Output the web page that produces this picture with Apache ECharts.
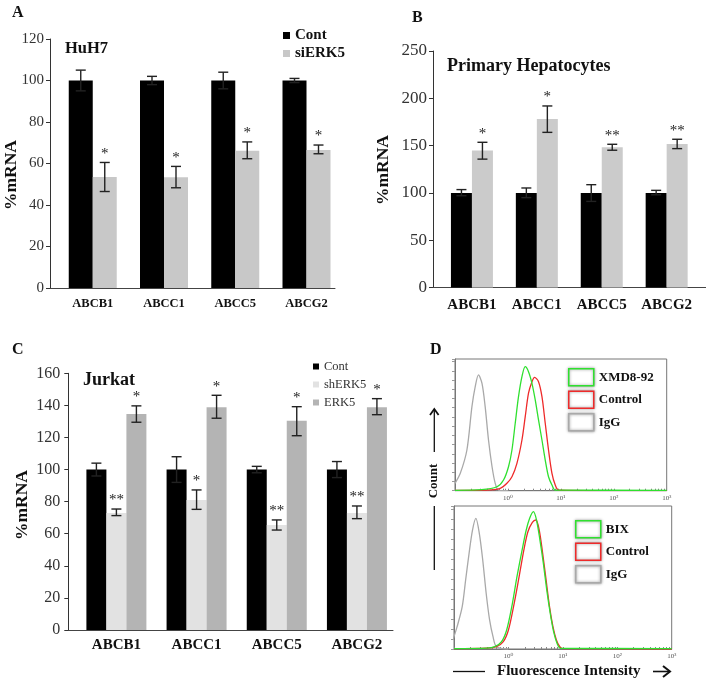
<!DOCTYPE html>
<html>
<head>
<meta charset="utf-8">
<script src="https://cdn.jsdelivr.net/npm/echarts@6/dist/echarts.min.js"></script>
<style>
  html, body { margin: 0; padding: 0; background: #fff; }
  #chart { width: 707px; height: 678px; }
</style>
</head>
<body>
<div id="chart"></div>
<script>
var genes = ["ABCB1", "ABCC1", "ABCC5", "ABCG2"];

// A: HuH7
var aCont = [100, 100, 100, 100];
var aContErr = [[95, 105], [98, 102], [96, 104], [99, 101]];
var aSi = [53.5, 53.4, 66.2, 66.5];
var aSiErr = [[46.5, 60.5], [48.3, 58.6], [62.3, 70.4], [64.7, 68.9]];
var aSiStars = ["*", "*", "*", "*"];

// B: primary hepatocytes
var bCont = [100, 100, 100, 100];
var bContErr = [[97, 103.5], [95, 105.2], [91, 108.7], [98, 102.7]];
var bTreat = [144.7, 178, 148.3, 151.7];
var bTreatErr = [[135.7, 153.5], [164, 191.9], [145.1, 151.4], [146.8, 156.7]];
var bStars = ["*", "*", "**", "**"];

// C: Jurkat
var cCont = [100, 100, 100, 100];
var cContErr = [[96, 104], [92, 108], [98, 102], [95, 105]];
var cSh = [73, 81, 65.5, 73];
var cShErr = [[71.3, 75.4], [75.2, 87.3], [62.3, 68.6], [69.4, 77.3]];
var cShStars = ["**", "*", "**", "**"];
var cErk = [134.7, 138.8, 130.5, 138.8];
var cErkErr = [[129.5, 139.7], [132, 146.3], [121.1, 139.2], [134.2, 144.2]];
var cErkStars = ["*", "*", "*", "*"];

// D: flow histograms, [log10 intensity, % of max count]
var d1IgG = [[-1, 5.6], [-0.9, 13.2], [-0.775, 30.9], [-0.68, 63.8], [-0.618, 79], [-0.556, 87.9],
  [-0.49, 81.5], [-0.43, 63.8], [-0.367, 38.5], [-0.3, 18.2], [-0.24, 5.6], [-0.18, 0.5], [0, 0]];
var d1Control = [[-1, 0.3], [-0.4, 0.5], [-0.146, 1.8], [-0.019, 5.6], [0.076, 10.6], [0.17, 20.8],
  [0.265, 38.5], [0.327, 56.2], [0.389, 74], [0.454, 82.8], [0.503, 86.1], [0.578, 82.8],
  [0.643, 71.4], [0.705, 51.2], [0.767, 30.9], [0.832, 13.2], [0.894, 4.3], [0.957, 0.5], [3, 0]];
var d1Xmd = [[-1, 0.3], [-0.5, 0.8], [-0.208, 3], [-0.083, 8.1], [0.011, 18.2], [0.076, 30.9],
  [0.138, 51.2], [0.2, 71.4], [0.265, 86.6], [0.327, 94.2], [0.389, 90.4], [0.454, 81.5],
  [0.516, 68.9], [0.578, 53.7], [0.643, 38.5], [0.705, 23.3], [0.767, 10.6], [0.832, 4.3],
  [0.894, 0.5], [3, 0.3]];
var d2IgG = [[-1.02, 6.3], [-0.943, 15.6], [-0.849, 29.6], [-0.786, 48.3], [-0.723, 66.9],
  [-0.66, 83.2], [-0.598, 91.4], [-0.535, 80.9], [-0.472, 62.2], [-0.409, 39], [-0.346, 20.3],
  [-0.283, 8.6], [-0.22, 1.6], [0, 0]];
var d2Control = [[-1, 0.3], [-0.4, 0.6], [-0.22, 1.6], [-0.094, 5.1], [0, 13.3], [0.094, 29.6],
  [0.189, 49], [0.283, 69.2], [0.358, 82], [0.44, 88.5], [0.504, 90.2], [0.566, 83.2],
  [0.629, 66.9], [0.692, 48.3], [0.755, 29.6], [0.818, 15.6], [0.881, 6.3], [0.943, 1.6],
  [1, 0.3], [3, 0]];
var d2Bix = [[-1, 0.3], [-0.4, 0.6], [-0.251, 1.6], [-0.126, 5.1], [-0.032, 13.3], [0.062, 29.6],
  [0.157, 50.6], [0.251, 69.2], [0.327, 83.2], [0.39, 91.4], [0.459, 96], [0.516, 90.2],
  [0.579, 76.2], [0.642, 59.9], [0.704, 41.3], [0.768, 25], [0.83, 12.1], [0.893, 4],
  [0.957, 0.5], [3, 0.3]];

var serif = '"Liberation Serif", "DejaVu Serif", serif';
var green = "#2fe02f", red = "#ee2a2a", gray = "#a9a9a9";
var sup = { "0": "\u2070", "1": "\u00b9", "2": "\u00b2", "3": "\u00b3" };

// minor ticks of the log axes (2..9 of each decade)
var logTicks = [];
for (var d = -1; d < 3; d++) {
  for (var k = 1; k < 10; k++) logTicks.push(d + Math.log10(k));
}
logTicks.push(3);

function barSeries(name, vals, color, axis, width) {
  return {
    type: "bar", name: name, xAxisIndex: axis, yAxisIndex: axis,
    data: vals.map(function (v, i) { return [i, v]; }),
    barWidth: width, barGap: "0%", itemStyle: { color: color }, silent: true
  };
}

function errSeries(axis, errs, stars, k, n, width) {
  var off = (k - (n - 1) / 2) * width;
  return {
    type: "custom", xAxisIndex: axis, yAxisIndex: axis, z: 5, silent: true,
    encode: { x: 0, y: [1, 2] },
    data: errs.map(function (e, i) { return [i, e[0], e[1]]; }),
    renderItem: function (params, api) {
      var lo = api.coord([api.value(0), api.value(1)]);
      var hi = api.coord([api.value(0), api.value(2)]);
      var x = hi[0] + off;
      var st = { stroke: "#222", lineWidth: 1.4 };
      var kids = [
        { type: "line", shape: { x1: x, y1: lo[1], x2: x, y2: hi[1] }, style: st },
        { type: "line", shape: { x1: x - 5, y1: hi[1], x2: x + 5, y2: hi[1] }, style: st },
        { type: "line", shape: { x1: x - 5, y1: lo[1], x2: x + 5, y2: lo[1] }, style: st }
      ];
      if (stars && stars[params.dataIndex]) {
        kids.push({
          type: "text",
          style: { text: stars[params.dataIndex], x: x, y: hi[1] - 1, align: "center",
            verticalAlign: "bottom", font: "15px " + serif, fill: "#222" }
        });
      }
      return { type: "group", children: kids };
    }
  };
}

function flowSeries(name, data, color, axis) {
  return {
    type: "line", name: name, xAxisIndex: axis, yAxisIndex: axis, data: data,
    symbol: "none", smooth: 0.3, silent: true,
    lineStyle: { color: color, width: 1.3 }, itemStyle: { color: color }
  };
}

function geneAxis(grid, min, max, size, margin) {
  return {
    gridIndex: grid, type: "value", min: min, max: max,
    axisLine: { onZero: false, lineStyle: { color: "#444", width: 1 } },
    axisTick: { show: false }, splitLine: { show: false },
    axisLabel: {
      customValues: [0, 1, 2, 3],
      formatter: function (v) { return genes[Math.round(v)]; },
      fontFamily: serif, fontWeight: "bold", fontSize: size, color: "#111", margin: margin
    }
  };
}

function pctAxis(grid, max, step, size, margin) {
  return {
    gridIndex: grid, type: "value", min: 0, max: max, interval: step,
    axisLine: { show: true, onZero: false, lineStyle: { color: "#333" } },
    axisTick: { show: true, length: 4, lineStyle: { color: "#333" } },
    splitLine: { show: false },
    axisLabel: { fontFamily: serif, fontSize: size, color: "#333", margin: margin }
  };
}

function logAxis(grid) {
  return {
    gridIndex: grid, type: "value", min: -1, max: 3, interval: 1,
    axisLine: { onZero: false, lineStyle: { color: "#777" } },
    axisTick: { customValues: logTicks, inside: true, length: 2, lineStyle: { color: "#888" } },
    splitLine: { show: false },
    axisLabel: {
      formatter: function (v) { return v < 0 ? "" : "10" + sup[Math.round(v)]; },
      fontSize: 7, fontFamily: serif, color: "#555", margin: 4
    }
  };
}

function countAxis(grid) {
  return {
    gridIndex: grid, type: "value", min: 0, max: 100, interval: 7,
    axisLine: { show: true, onZero: false, lineStyle: { color: "#777" } },
    axisTick: { show: true, length: 3, lineStyle: { color: "#999" } },
    axisLabel: { show: false }, splitLine: { show: false }
  };
}

function txt(text, x, y, size, weight, rot) {
  return {
    type: "text", x: x, y: y, rotation: rot || 0, silent: true,
    style: { text: text, align: rot ? "center" : "left", verticalAlign: "middle",
      font: (weight || "bold") + " " + size + "px " + serif, fill: "#111" }
  };
}

function flowLegend(first, top, left) {
  var names = [first, "Control", "IgG"];
  var cols = [green, red, gray];
  return {
    data: names.map(function (n, i) {
      return { name: n, itemStyle: { color: "#fff", borderColor: cols[i], borderWidth: 1.5 } };
    }),
    icon: "rect", orient: "vertical", left: left, top: top,
    itemWidth: 25, itemHeight: 17, itemGap: 4, padding: 0, selectedMode: false,
    itemStyle: { shadowBlur: 3, shadowColor: "rgba(0,0,0,0.45)" },
    textStyle: { fontFamily: serif, fontWeight: "bold", fontSize: 13, color: "#111" }
  };
}

var chart = echarts.init(document.getElementById("chart"));

chart.setOption({
  animation: false,
  backgroundColor: "#fff",
  grid: [
    { left: 50, top: 39, width: 285, height: 249 },
    { left: 433, top: 51, width: 272.6, height: 236.5 },
    { left: 68.3, top: 373.3, width: 324.7, height: 256.7 },
    { left: 455, top: 359, width: 211.7, height: 131.7, show: true, borderColor: "#777", borderWidth: 1 },
    { left: 454, top: 506, width: 217.7, height: 143, show: true, borderColor: "#777", borderWidth: 1 }
  ],
  xAxis: [
    geneAxis(0, -0.6, 3.4, 12.5, 9),
    geneAxis(1, -0.6, 3.6, 15, 10),
    geneAxis(2, -0.6, 3.45, 15, 8),
    logAxis(3),
    logAxis(4)
  ],
  yAxis: [
    pctAxis(0, 120, 20, 15, 6),
    pctAxis(1, 250, 50, 17, 6),
    pctAxis(2, 160, 20, 16, 8),
    countAxis(3),
    countAxis(4)
  ],
  legend: [
    {
      data: ["Cont", "siERK5"], icon: "rect", orient: "vertical", left: 283, top: 28,
      itemWidth: 7, itemHeight: 7, itemGap: 3, padding: 0, selectedMode: false,
      textStyle: { fontFamily: serif, fontWeight: "bold", fontSize: 15, color: "#111" }
    },
    {
      data: ["Cont", "shERK5", "ERK5"], icon: "rect", orient: "vertical", left: 313, top: 360,
      itemWidth: 6, itemHeight: 6, itemGap: 5, padding: 0, selectedMode: false,
      textStyle: { fontFamily: serif, fontSize: 12.5, color: "#333" }
    },
    flowLegend("XMD8-92", 368, 568),
    flowLegend("BIX", 520, 575)
  ],
  graphic: [
    txt("A", 12, 13, 16),
    txt("B", 412, 18, 16),
    txt("C", 12, 350, 16),
    txt("D", 430, 350, 16),
    txt("HuH7", 65, 49, 16.5),
    txt("Primary Hepatocytes", 447, 66, 18),
    txt("Jurkat", 83, 380, 18),
    txt("%mRNA", 11, 175, 17.5, "bold", Math.PI / 2),
    txt("%mRNA", 383, 170, 17.5, "bold", Math.PI / 2),
    txt("%mRNA", 22, 505, 17.5, "bold", Math.PI / 2),
    txt("Count", 434, 481, 13, "bold", Math.PI / 2),
    txt("Fluorescence Intensity", 497, 671, 15),
    { type: "line", silent: true, shape: { x1: 434.3, y1: 410, x2: 434.3, y2: 452 }, style: { stroke: "#111", lineWidth: 1.3 } },
    { type: "polyline", silent: true, shape: { points: [[430, 415], [434.3, 409], [438.6, 415]] }, style: { stroke: "#111", lineWidth: 1.8, fill: null } },
    { type: "line", silent: true, shape: { x1: 434.3, y1: 506, x2: 434.3, y2: 570 }, style: { stroke: "#111", lineWidth: 1.3 } },
    { type: "line", silent: true, shape: { x1: 453, y1: 671.5, x2: 485, y2: 671.5 }, style: { stroke: "#111", lineWidth: 1.3 } },
    { type: "line", silent: true, shape: { x1: 653, y1: 671.5, x2: 670, y2: 671.5 }, style: { stroke: "#111", lineWidth: 1.6 } },
    { type: "polyline", silent: true, shape: { points: [[663, 666], [670, 671.5], [663, 677]] }, style: { stroke: "#111", lineWidth: 2, fill: null } }
  ],
  series: [
    barSeries("Cont", aCont, "#000", 0, 24),
    barSeries("siERK5", aSi, "#c8c8c8", 0, 24),
    errSeries(0, aContErr, null, 0, 2, 24),
    errSeries(0, aSiErr, aSiStars, 1, 2, 24),

    barSeries("Cont", bCont, "#000", 1, 21),
    barSeries("Primary", bTreat, "#cbcbcb", 1, 21),
    errSeries(1, bContErr, null, 0, 2, 21),
    errSeries(1, bTreatErr, bStars, 1, 2, 21),

    barSeries("Cont", cCont, "#000", 2, 20),
    barSeries("shERK5", cSh, "#e2e2e2", 2, 20),
    barSeries("ERK5", cErk, "#b4b4b4", 2, 20),
    errSeries(2, cContErr, null, 0, 3, 20),
    errSeries(2, cShErr, cShStars, 1, 3, 20),
    errSeries(2, cErkErr, cErkStars, 2, 3, 20),

    flowSeries("IgG", d1IgG, gray, 3),
    flowSeries("Control", d1Control, red, 3),
    flowSeries("XMD8-92", d1Xmd, green, 3),
    flowSeries("IgG", d2IgG, gray, 4),
    flowSeries("Control", d2Control, red, 4),
    flowSeries("BIX", d2Bix, green, 4)
  ]
});
</script>
</body>
</html>
